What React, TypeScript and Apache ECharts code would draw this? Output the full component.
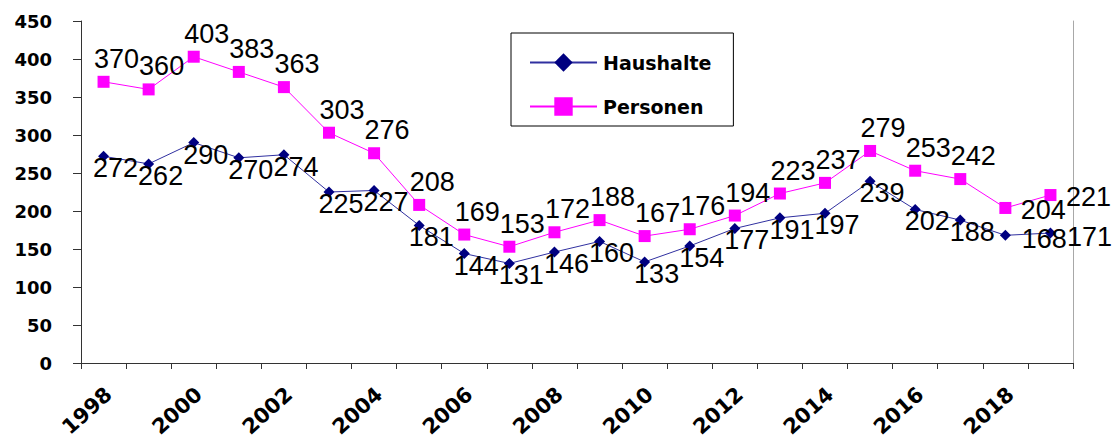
import React, { useEffect, useRef } from "react";
import * as echarts from "echarts";

const years = [
  "1998", "1999", "2000", "2001", "2002", "2003", "2004", "2005", "2006", "2007", "2008",
  "2009", "2010", "2011", "2012", "2013", "2014", "2015", "2016", "2017", "2018", "2019",
];
const haushalte = [272, 262, 290, 270, 274, 225, 227, 181, 144, 131, 146, 160, 133, 154, 177, 191, 197, 239, 202, 188, 168, 171];
const personen = [370, 360, 403, 383, 363, 303, 276, 208, 169, 153, 172, 188, 167, 176, 194, 223, 237, 279, 253, 242, 204, 221];

const LABEL_FONT = "'Liberation Sans Narrow', 'Arial Narrow', 'Liberation Sans', Arial, sans-serif";
const AXIS_FONT = "'DejaVu Sans', Verdana, sans-serif";

function withLabels(values: number[], base: number[], last: number[]) {
  return values.map((v, i) => {
    if (i >= values.length - 2) {
      return { value: v, label: { offset: last } };
    }
    return { value: v, label: { offset: base } };
  });
}

export default function App() {
  const ref = useRef<HTMLDivElement>(null);
  useEffect(() => {
    if (!ref.current) return;
    const chart = echarts.init(ref.current, null, { renderer: "svg" });
    const labelBase = {
      show: true,
      position: "inside",
      color: "#000",
      fontFamily: LABEL_FONT,
      fontSize: 27,
    };
    chart.setOption({
      animation: false,
      backgroundColor: "#fff",
      grid: { left: 81, right: 41, top: 21, bottom: 78, containLabel: false },
      legend: {
        left: 511,
        top: 33,
        orient: "vertical",
        backgroundColor: "#fff",
        borderColor: "#000",
        borderWidth: 1,
        borderRadius: 0,
        padding: [20, 22, 10, 18],
        itemWidth: 67,
        itemHeight: 23,
        itemGap: 25,
        textStyle: {
          fontFamily: AXIS_FONT,
          fontWeight: "bold",
          fontSize: 19,
          color: "#000",
          padding: [0, 0, 0, 1],
        },
        data: ["Haushalte", "Personen"],
      },
      xAxis: {
        type: "category",
        data: years,
        boundaryGap: true,
        axisLine: { show: true, lineStyle: { color: "#333", width: 1 } },
        axisTick: { show: true, interval: 0, length: 6, lineStyle: { color: "#333" } },
        axisLabel: {
          interval: 1,
          rotate: 42,
          margin: 33,
          padding: [0, -7, 0, 0],
          fontFamily: AXIS_FONT,
          fontWeight: "bold",
          fontSize: 21,
          color: "#000",
        },
        splitLine: { show: false },
      },
      yAxis: [
        {
          type: "value",
          min: 0,
          max: 450,
          interval: 50,
          axisLine: { show: true, lineStyle: { color: "#333", width: 1 } },
          axisTick: { show: true, length: 8, lineStyle: { color: "#333" } },
          axisLabel: {
            margin: 29,
            fontFamily: AXIS_FONT,
            fontWeight: "bold",
            fontSize: 18,
            color: "#000",
          },
          splitLine: { show: false },
        },
        {
          type: "value",
          min: 0,
          max: 450,
          interval: 50,
          position: "right",
          axisLine: { show: true, lineStyle: { color: "#a8a8a8", width: 1 } },
          axisTick: { show: false },
          axisLabel: { show: false },
          splitLine: { show: false },
        },
      ],
      series: [
        {
          name: "Haushalte",
          type: "line",
          yAxisIndex: 0,
          data: withLabels(haushalte, [12, 12], [39, 4]),
          symbol: "diamond",
          symbolSize: 11,
          itemStyle: { color: "#000080" },
          lineStyle: { color: "#3030a0", width: 1 },
          label: labelBase,
          z: 3,
        },
        {
          name: "Personen",
          type: "line",
          yAxisIndex: 0,
          data: withLabels(personen, [13, -23], [38, 2]),
          symbol: "rect",
          symbolSize: 12,
          itemStyle: { color: "#ff00ff" },
          lineStyle: { color: "#ff00ff", width: 1 },
          label: labelBase,
          z: 2,
        },
      ],
    });
    return () => chart.dispose();
  }, []);
  return (
    <div
      ref={ref}
      style={{ position: "absolute", left: 0, top: 0, width: 1114, height: 441 }}
    />
  );
}
